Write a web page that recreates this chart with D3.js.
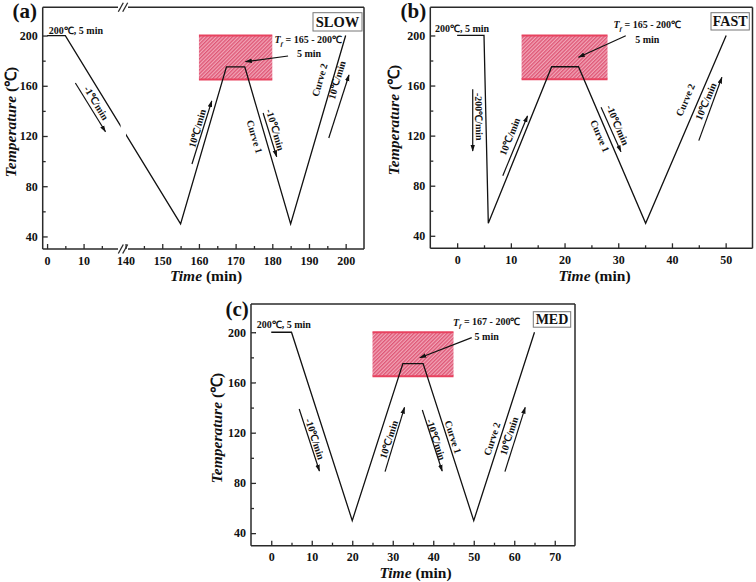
<!DOCTYPE html>
<html><head><meta charset="utf-8">
<script src="https://cdn.jsdelivr.net/npm/d3@7"></script>
<style>body{margin:0;background:#fff}svg{display:block}</style>
</head><body><svg id="c" width="756" height="582"></svg>
<script>
// ---------- data ----------
const slowTime = [0, 5, 155, 167.5, 172.5, 185, 200];
const slowTemp = [200, 200, 50, 175, 175, 50, 200];
const fastTime = [0, 5, 5.8, 17.6, 22.6, 35.1, 50.1];
const fastTemp = [200, 200, 50, 175, 175, 50, 200];
const medTime = [0, 5, 20, 32.5, 37.5, 50, 65];
const medTemp = [200, 200, 50, 175, 175, 50, 200];

const yTicks = [40, 80, 120, 160, 200];
const yMinor = [60, 100, 140, 180];
const slowXTicksLeft = [0, 10];
const slowXTicksRight = [140, 150, 160, 170, 180, 190, 200];
const slowXMinorLeft = [5, 15];
const slowXMinorRight = [145, 155, 165, 175, 185, 195];
const fastXTicks = [0, 10, 20, 30, 40, 50];
const fastXMinor = [5, 15, 25, 35, 45];
const medXTicks = [0, 10, 20, 30, 40, 50, 60, 70];
const medXMinor = [5, 15, 25, 35, 45, 55, 65];

// [t start, t end, T low, T high]
const slowWindow = [160, 180, 165, 200];
const fastWindow = [12, 28, 165, 200];
const medWindow = [25, 45, 165, 200];

// flat labels: [text, t, T]
const slowFlat = [["200℃, 5 min", 7.9, 204.4], ["5 min", 190, 186.1]];
const fastFlat = [["200℃, 5 min", 0.9, 205.7], ["5 min", 35.4, 197]];
const medFlat = [["200℃, 5 min", 3.1, 206.3], ["5 min", 53.2, 196.5]];
// Tf labels: [range text, t, T]
const slowTf = ["165 - 200℃", 189.8, 196.5];
const fastTf = ["165 - 200℃", 35.4, 208.4];
const medTf = ["167 - 200℃", 53.2, 207.9];
// rotated labels: [text, t, T, segment index]
const slowRot = [["-1℃/min", 13.5, 146.3, 1], ["10℃/min", 159.5, 126, 2], ["Curve 1", 175.2, 119.4, 4],
  ["-10℃/min", 180.8, 125.0, 4], ["Curve 2", 192.9, 164.6, 5], ["10℃/min", 197.6, 164.6, 5]];
const fastRot = [["-200℃/min", 4.07, 135.1, 1], ["10℃/min", 9.8, 119.3, 2], ["Curve 1", 26.6, 119.7, 4],
  ["-10℃/min", 29.9, 128.5, 4], ["Curve 2", 42.5, 148.5, 5], ["10℃/min", 46.3, 147.3, 5]];
const medRot = [["-10℃/min", 10.8, 115, 1], ["10℃/min", 29.0, 114.6, 2], ["-10℃/min", 40.7, 114.6, 4],
  ["Curve 1", 44.9, 116.6, 4], ["Curve 2", 54.5, 115, 5], ["10℃/min", 58.7, 117.4, 5]];
// arrows: [t0, T0, t1, T1]
const slowArrows = [[7.75, 162.2, 16.0, 123.4], [158.1, 97.7, 163.5, 147.9], [177.5, 138.3, 181.2, 103.5],
  [195.4, 118.4, 200.9, 168.6], [184.3, 183.7, 172.7, 179.2]];
const fastArrows = [[2.9, 157, 2.9, 107.7], [8.5, 88, 13.1, 135.7], [26.8, 142.6, 30.5, 107.2],
  [45, 116, 49.3, 166.6], [31.4, 199.8, 22.6, 182.6]];
const medArrows = [[6.9, 138.9, 11.9, 89.5], [28.1, 89, 32.9, 140.2], [37.3, 138.1, 42.2, 89.5],
  [57.7, 89, 62.7, 140.2], [49.5, 195.7, 36.7, 179.7]];

const panelLetters = ["(a)", "(b)", "(c)"];
const speedNames = ["SLOW", "FAST", "MED"];
const tempDomain = [30, 222.5];

// ---------- drawing ----------
const FONT = "Liberation Serif, Times New Roman, serif";
const svg = d3.select("#c");
const defs = svg.append("defs");
const pat = defs.append("pattern").attr("id", "hatch").attr("patternUnits", "userSpaceOnUse")
  .attr("width", 2.6).attr("height", 2.6).attr("patternTransform", "rotate(45)");
pat.append("rect").attr("width", 2.6).attr("height", 2.6).attr("fill", "#f2a6b8");
pat.append("line").attr("x1", 0.7).attr("y1", 0).attr("x2", 0.7).attr("y2", 2.6)
  .attr("stroke", "#dc4d6e").attr("stroke-width", 1.2);
defs.append("marker").attr("id", "ah").attr("viewBox", "0 0 10 10").attr("refX", 9).attr("refY", 5)
  .attr("markerWidth", 7).attr("markerHeight", 7).attr("markerUnits", "userSpaceOnUse")
  .attr("orient", "auto").append("path").attr("d", "M0,1.8 L10,5 L0,8.2 Z").attr("fill", "#111");

function drawPanel(cfg) {
  const { box, x, times, temps, win, flat, tf, rot, arrows, letter, speed } = cfg;
  const g = svg.append("g").style("font-family", FONT);
  const y = d3.scaleLinear(tempDomain, [box.y1, box.y0]);

  // window rectangle
  g.append("rect").attr("x", x(win[0])).attr("y", y(win[3]))
    .attr("width", x(win[1]) - x(win[0])).attr("height", y(win[2]) - y(win[3]))
    .attr("fill", "url(#hatch)");
  [win[2], win[3]].forEach(v => g.append("line").attr("x1", x(win[0])).attr("x2", x(win[1]))
    .attr("y1", y(v)).attr("y2", y(v)).attr("stroke", "#e8425f").attr("stroke-width", 2));

  // curve
  const pts = times.map((t, i) => [t, temps[i]]);
  g.append("path").datum(pts).attr("fill", "none").attr("stroke", "#111").attr("stroke-width", 1.3)
    .attr("d", d3.line().x(d => x(d[0])).y(d => y(d[1])));

  if (cfg.brk) {
    g.append("rect").attr("x", cfg.brk - 2.4).attr("y", box.y0 + 20).attr("width", 5.4)
      .attr("height", box.y1 - box.y0 - 40).attr("fill", "#fff");
  }

  // frame
  const fr = g.append("g").attr("stroke", "#2a2a2a").attr("stroke-width", 1.5).attr("fill", "none");
  fr.append("line").attr("x1", box.x0).attr("x2", box.x0).attr("y1", box.y0).attr("y2", box.y1);
  fr.append("line").attr("x1", box.x1).attr("x2", box.x1).attr("y1", box.y0).attr("y2", box.y1);
  [box.y0, box.y1].forEach(yy => {
    if (cfg.brk) {
      fr.append("line").attr("x1", box.x0).attr("x2", cfg.brk - 5).attr("y1", yy).attr("y2", yy);
      fr.append("line").attr("x1", cfg.brk + 5).attr("x2", box.x1).attr("y1", yy).attr("y2", yy);
      [-2.2, 2.2].forEach(o => fr.append("line").attr("x1", cfg.brk + o - 2.5).attr("x2", cfg.brk + o + 2.5)
        .attr("y1", yy + 4.5).attr("y2", yy - 4.5).attr("stroke-width", 1.3));
    } else {
      fr.append("line").attr("x1", box.x0).attr("x2", box.x1).attr("y1", yy).attr("y2", yy);
    }
  });

  // axes
  const styleAxis = sel => {
    sel.attr("font-family", null);
    sel.select(".domain").remove();
    sel.selectAll("line").attr("stroke", "#2a2a2a").attr("stroke-width", 1.3);
    sel.selectAll("text").style("font-family", FONT).attr("font-weight", "bold")
      .attr("font-size", 12).attr("fill", "#111");
  };
  cfg.xAxes.forEach(a => {
    g.append("g").attr("transform", `translate(0,${box.y1})`)
      .call(d3.axisBottom(a.scale).tickValues(a.major).tickSize(-5).tickPadding(7).tickFormat(d3.format("d")))
      .call(styleAxis);
    g.append("g").attr("transform", `translate(0,${box.y1})`)
      .call(d3.axisBottom(a.scale).tickValues(a.minor).tickSize(-3).tickFormat(""))
      .call(styleAxis);
  });
  g.append("g").attr("transform", `translate(${box.x0},0)`)
    .call(d3.axisLeft(y).tickValues(yTicks).tickSize(-5).tickPadding(5).tickFormat(d3.format("d")))
    .call(styleAxis);
  g.append("g").attr("transform", `translate(${box.x0},0)`)
    .call(d3.axisLeft(y).tickValues(yMinor).tickSize(-3).tickFormat(""))
    .call(styleAxis);

  // axis titles
  const xt = g.append("text").attr("x", cfg.xTitle[0]).attr("y", cfg.xTitle[1]).attr("text-anchor", "middle")
    .attr("font-size", 15.5).attr("font-weight", "bold").attr("fill", "#111");
  xt.append("tspan").attr("font-style", "italic").text("Time");
  xt.append("tspan").text(" (min)");
  const yt = g.append("text").attr("transform", `translate(${cfg.yTitle[0]},${cfg.yTitle[1]}) rotate(-90)`)
    .attr("text-anchor", "middle").attr("dy", "0.35em")
    .attr("font-size", 15.5).attr("font-weight", "bold").attr("fill", "#111");
  yt.append("tspan").attr("font-style", "italic").text("Temperature");
  yt.append("tspan").text(" (℃)");

  // panel letter
  g.append("text").attr("x", cfg.letterPos[0]).attr("y", cfg.letterPos[1]).attr("font-size", 21)
    .attr("font-weight", "bold").attr("fill", "#111").text(letter);

  // speed box
  const sb = cfg.speedBox;
  g.append("rect").attr("x", sb[0]).attr("y", sb[1]).attr("width", sb[2]).attr("height", sb[3])
    .attr("fill", "#fff").attr("stroke", "#777").attr("stroke-width", 1);
  g.append("text").attr("x", sb[0] + sb[2] / 2).attr("y", sb[1] + sb[3] / 2).attr("dy", "0.36em")
    .attr("text-anchor", "middle").attr("font-size", sb[4]).attr("font-weight", "bold")
    .attr("fill", "#111").text(speed);

  // annotations
  const ann = g.append("g").attr("font-weight", "bold").attr("font-size", 10).attr("fill", "#111");
  flat.forEach(d => ann.append("text").attr("x", x(d[1])).attr("y", y(d[2])).attr("dy", "0.35em")
    .attr("text-anchor", "middle").text(d[0]));
  const tft = ann.append("text").attr("x", x(tf[1])).attr("y", y(tf[2])).attr("dy", "0.35em")
    .attr("text-anchor", "middle");
  tft.append("tspan").attr("font-style", "italic").text("T");
  tft.append("tspan").attr("font-style", "italic").attr("font-size", 7).attr("dy", "0.3em").text("f");
  tft.append("tspan").attr("dy", "-0.3em").text(" = " + tf[0]);
  rot.forEach(d => {
    const i = d[3];
    const ang = Math.atan2(y(temps[i + 1]) - y(temps[i]), x(times[i + 1]) - x(times[i])) * 180 / Math.PI;
    ann.append("text").attr("transform", `translate(${x(d[1])},${y(d[2])}) rotate(${ang})`)
      .attr("dy", "0.35em").attr("text-anchor", "middle").text(d[0]);
  });
  arrows.forEach(d => g.append("line").attr("x1", x(d[0])).attr("y1", y(d[1]))
    .attr("x2", x(d[2])).attr("y2", y(d[3])).attr("stroke", "#111").attr("stroke-width", 1.2)
    .attr("marker-end", "url(#ah)"));
}

// panel (a): broken time axis
const xaL = d3.scaleLinear([-1.2, 20.8], [42.7, 123]);
const xaR = d3.scaleLinear([139.3, 205], [123, 364]);
const xa = t => (t < 80 ? xaL(t) : xaR(t));
drawPanel({
  box: { x0: 42.7, x1: 364, y0: 7.3, y1: 249 }, x: xa, brk: 123,
  xAxes: [{ scale: xaL, major: slowXTicksLeft, minor: slowXMinorLeft },
          { scale: xaR, major: slowXTicksRight, minor: slowXMinorRight }],
  times: slowTime, temps: slowTemp, win: slowWindow, flat: slowFlat, tf: slowTf, rot: slowRot,
  arrows: slowArrows, letter: panelLetters[0], speed: speedNames[0],
  xTitle: [206, 280.5], yTitle: [11, 122], letterPos: [12.5, 18], speedBox: [313, 12.7, 49, 18.3, 14.5]
});
const xb = d3.scaleLinear([-5, 55], [430.3, 752.5]);
drawPanel({
  box: { x0: 430.3, x1: 752.5, y0: 7.3, y1: 248.3 }, x: xb,
  xAxes: [{ scale: xb, major: fastXTicks, minor: fastXMinor }],
  times: fastTime, temps: fastTemp, win: fastWindow, flat: fastFlat, tf: fastTf, rot: fastRot,
  arrows: fastArrows, letter: panelLetters[1], speed: speedNames[1],
  xTitle: [594.5, 281], yTitle: [394, 120], letterPos: [400.5, 18], speedBox: [711, 12.7, 38.3, 17.3, 14]
});
const xc = d3.scaleLinear([-5, 75], [251, 575]);
drawPanel({
  box: { x0: 251, x1: 575, y0: 304, y1: 545.7 }, x: xc,
  xAxes: [{ scale: xc, major: medXTicks, minor: medXMinor }],
  times: medTime, temps: medTemp, win: medWindow, flat: medFlat, tf: medTf, rot: medRot,
  arrows: medArrows, letter: panelLetters[2], speed: speedNames[2],
  xTitle: [415.5, 578], yTitle: [217, 428], letterPos: [225.5, 316], speedBox: [533.3, 311.7, 37.4, 15.5, 14]
});
</script></body></html>
